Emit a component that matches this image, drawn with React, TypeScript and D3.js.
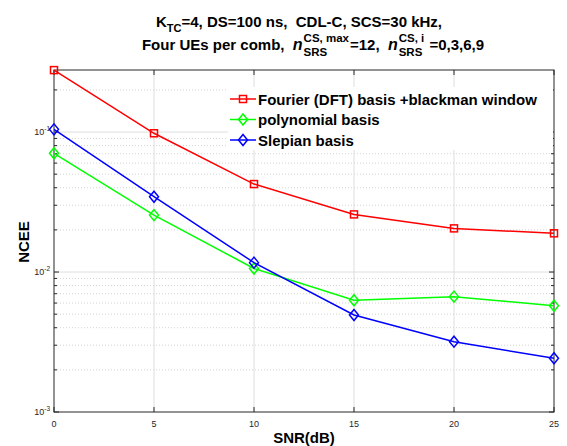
import React from "react";
import * as d3 from "d3";

const snr = [0, 5, 10, 15, 20, 25];
const dftBlackman = [0.277, 0.098, 0.0425, 0.0258, 0.0205, 0.0189];
const polynomial = [0.0705, 0.0255, 0.0106, 0.00628, 0.00667, 0.00574];
const slepian = [0.1045, 0.0345, 0.01167, 0.00493, 0.00318, 0.00242];
const xTicks = [0, 5, 10, 15, 20, 25];
const yMajor = [1e-3, 1e-2, 1e-1];
const yMajorExp = ["-3", "-2", "-1"];
const seriesNames = ["Fourier (DFT) basis +blackman window", "polynomial basis", "Slepian basis"];

const W = 567, H = 446;
const FONT = '"Liberation Sans", Arial, Helvetica, sans-serif';
const AX = "#262626";

let _ctx: CanvasRenderingContext2D | null = null;
function measure(t: string, size: number, italic = false) {
  if (!_ctx) _ctx = document.createElement("canvas").getContext("2d");
  _ctx!.font = `${italic ? "italic " : ""}bold ${size}px "Liberation Sans"`;
  return _ctx!.measureText(t).width;
}

type Seg = { t: string; size?: number; italic?: boolean; dy?: number; sup?: string; sub?: string };

function layoutLine(segs: Seg[], center: number, baseline: number, key: string, small = 11) {
  const BIG = 15;
  const items: { x: number; y: number; t: string; size: number; italic: boolean }[] = [];
  let x = 0;
  for (const s of segs) {
    if (s.sup !== undefined) {
      const w1 = measure(s.sup, small), w2 = measure(s.sub || "", small);
      items.push({ x, y: baseline - 8, t: s.sup, size: small, italic: false });
      items.push({ x, y: baseline + 5.5, t: s.sub || "", size: small, italic: false });
      x += Math.max(w1, w2) + 1;
    } else {
      const size = s.size || BIG;
      items.push({ x, y: baseline + (s.dy || 0), t: s.t, size, italic: !!s.italic });
      x += measure(s.t, size, !!s.italic) + (s.italic ? 1 : 0);
    }
  }
  const start = center - x / 2;
  return items.map((it, i) => (
    <text key={key + i} x={start + it.x} y={it.y} fontSize={it.size} fontWeight="bold"
      fontStyle={it.italic ? "italic" : "normal"} fill="#000" style={{ whiteSpace: "pre" }}>
      {it.t}
    </text>
  ));
}

export default function App() {
  const x = d3.scaleLinear().domain([0, 25]).range([54, 554]);
  const y = d3.scaleLog().domain([1e-3, 0.2775]).range([412, 70]);
  const [x0, x1] = x.range();
  const [yb, yt] = y.range();

  const minor: number[] = [];
  for (const dec of [1e-3, 1e-2, 1e-1]) for (let k = 2; k <= 9; k++) {
    const v = k * dec;
    if (v < 0.2775) minor.push(v);
  }
  const line = d3.line<number>().x((_, i) => x(snr[i])).y((v) => y(v));
  const colors = ["#ff0000", "#00ff00", "#0000ff"];
  const data = [dftBlackman, polynomial, slepian];

  const square = (cx: number, cy: number, c: string, k: string) =>
    <rect key={k} x={cx - 3.5} y={cy - 3.5} width={7} height={7} fill="none" stroke={c} strokeWidth={1.5} />;
  const diamond = (cx: number, cy: number, c: string, k: string) =>
    <path key={k} d={`M${cx},${cy - 5.5}L${cx + 4.5},${cy}L${cx},${cy + 5.5}L${cx - 4.5},${cy}Z`} fill="none" stroke={c} strokeWidth={1.5} />;
  const marker = (i: number, cx: number, cy: number, k: string) =>
    i === 0 ? square(cx, cy, colors[i], k) : diamond(cx, cy, colors[i], k);

  return (
    <svg width={W} height={H} style={{ position: "absolute", left: 0, top: 0, background: "#fff" }} fontFamily={FONT}>
      <rect x={0} y={0} width={W} height={H} fill="#fff" />
      {/* grid */}
      {xTicks.slice(1, -1).map((t) => (
        <line key={"gx" + t} x1={x(t)} x2={x(t)} y1={yt} y2={yb} stroke="#dedede" strokeWidth={1} />
      ))}
      {minor.map((v) => (
        <line key={"gm" + v} x1={x0} x2={x1} y1={y(v)} y2={y(v)} stroke="#d4d4d4" strokeWidth={1} strokeDasharray="1,2" />
      ))}
      {yMajor.slice(1).map((v) => (
        <line key={"gy" + v} x1={x0} x2={x1} y1={y(v)} y2={y(v)} stroke="#dedede" strokeWidth={1} />
      ))}
      {/* ticks */}
      {xTicks.map((t) => (
        <g key={"xt" + t}>
          <line x1={x(t)} x2={x(t)} y1={yb} y2={yb - 5} stroke={AX} />
          <line x1={x(t)} x2={x(t)} y1={yt} y2={yt + 5} stroke={AX} />
          <text x={x(t)} y={427} fontSize={9} textAnchor="middle" fill={AX}>{t}</text>
        </g>
      ))}
      {yMajor.map((v, i) => (
        <g key={"yt" + v}>
          <line x1={x0} x2={x0 + 5} y1={y(v)} y2={y(v)} stroke={AX} />
          <line x1={x1} x2={x1 - 5} y1={y(v)} y2={y(v)} stroke={AX} />
          <text x={50} y={y(v) + 3} fontSize={9} textAnchor="end" fill={AX}>
            10<tspan fontSize={6.5} dy={-4}>{yMajorExp[i]}</tspan>
          </text>
        </g>
      ))}
      {minor.map((v) => (
        <g key={"ym" + v}>
          <line x1={x0} x2={x0 + 3} y1={y(v)} y2={y(v)} stroke={AX} />
          <line x1={x1} x2={x1 - 3} y1={y(v)} y2={y(v)} stroke={AX} />
        </g>
      ))}
      <rect x={x0} y={yt} width={x1 - x0} height={yb - yt} fill="none" stroke={AX} strokeWidth={1} />
      {/* series */}
      {data.map((d, i) => (
        <g key={"s" + i}>
          <path d={line(d) || ""} fill="none" stroke={colors[i]} strokeWidth={1.5} />
          {d.map((v, j) => marker(i, x(snr[j]), y(v), "m" + i + j))}
        </g>
      ))}
      {/* legend */}
      <rect x={228} y={87} width={325} height={63} fill="#fff" />
      {seriesNames.map((n, i) => {
        const cy = 99 + i * 20.5;
        return (
          <g key={"lg" + i}>
            <line x1={230} x2={256} y1={cy} y2={cy} stroke={colors[i]} strokeWidth={1.5} />
            {marker(i, 243, cy, "lm" + i)}
            <text x={258} y={cy + 5.5} fontSize={15} fontWeight="bold" fill="#000">{n}</text>
          </g>
        );
      })}
      {/* labels */}
      <text x={304} y={443} fontSize={15} fontWeight="bold" textAnchor="middle" fill="#000">SNR(dB)</text>
      <text transform="translate(29,242) rotate(-90)" fontSize={15} fontWeight="bold" textAnchor="middle" fill="#000">NCEE</text>
      {/* title */}
      {layoutLine([
        { t: "K" },
        { t: "TC", size: 11, dy: 4.5 },
        { t: "=4, DS=100 ns,  CDL-C, SCS=30 kHz," },
      ], 299, 27, "t1")}
      {layoutLine([
        { t: "Four UEs per comb,  " },
        { t: "n", italic: true, size: 16 },
        { t: "", sup: "CS, max", sub: "SRS" },
        { t: "=12,  " },
        { t: "n", italic: true, size: 16 },
        { t: "", sup: "CS, i", sub: "SRS" },
        { t: " =0,3,6,9" },
      ], 313, 50, "t2", 11.5)}
    </svg>
  );
}
